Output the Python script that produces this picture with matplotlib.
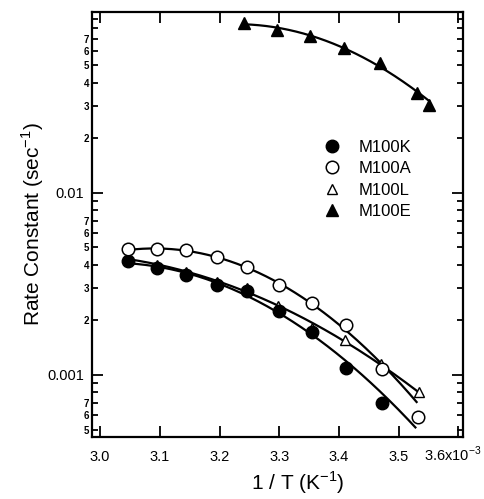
import numpy as np
import matplotlib
matplotlib.use("Agg")
import matplotlib.pyplot as plt
from matplotlib.ticker import LogLocator, FuncFormatter, FixedLocator
from matplotlib.transforms import ScaledTranslation

plt.rcParams['font.family'] = ['Liberation Sans', 'DejaVu Sans']
plt.rcParams['mathtext.fontset'] = 'custom'
plt.rcParams['mathtext.rm'] = 'Liberation Sans'

# 1/T values (units of 10^-3 K^-1) and rate constants (sec^-1)
x_K = [3.047, 3.095, 3.144, 3.195, 3.246, 3.299, 3.355, 3.412, 3.472]
y_K = [0.00419, 0.00384, 0.00352, 0.00313, 0.00287, 0.00223, 0.00171, 0.00109, 0.00070]

x_A = [3.047, 3.095, 3.144, 3.195, 3.246, 3.299, 3.355, 3.412, 3.472, 3.533]
y_A = [0.00488, 0.00488, 0.00482, 0.00441, 0.00389, 0.00313, 0.00247, 0.00187, 0.00107, 0.000586]

x_L = [3.047, 3.095, 3.144, 3.195, 3.246, 3.298, 3.355, 3.410, 3.471, 3.534]
y_L = [0.00435, 0.00399, 0.00366, 0.00325, 0.00299, 0.00238, 0.00180, 0.00155, 0.00115, 0.00080]

x_E = [3.241, 3.296, 3.352, 3.409, 3.469, 3.530, 3.551]
y_E = [0.0851, 0.0783, 0.0726, 0.0622, 0.0513, 0.0352, 0.0304]

labels = ['M100K', 'M100A', 'M100L', 'M100E']
x_ticks = [3.0, 3.1, 3.2, 3.3, 3.4, 3.5, 3.6]
x_ticklabels = ['3.0', '3.1', '3.2', '3.3', '3.4', '3.5', r'3.6x10$^{\mathregular{-3}}$']

# x range covered by each fitted curve
fit_ranges = {'K': (3.047, 3.528), 'A': (3.047, 3.530), 'L': (3.047, 3.539), 'E': (3.241, 3.551)}

fig = plt.figure(figsize=(4.85, 4.99), dpi=100)
ax = fig.add_axes([0.190, 0.124, 0.765, 0.852])
ax.set_yscale('log')


def fit_curve(x, y, rng, deg=2):
    # least squares on k itself (weights ~ k on log residuals)
    y = np.asarray(y)
    c = np.polyfit(x, np.log10(y), deg, w=y)
    xx = np.linspace(rng[0], rng[1], 200)
    return xx, 10 ** np.polyval(c, xx)


for key, xs, ys in [('L', x_L, y_L), ('K', x_K, y_K), ('A', x_A, y_A), ('E', x_E, y_E)]:
    xx, yy = fit_curve(xs, ys, fit_ranges[key])
    ax.plot(xx, yy, color='black', lw=1.6, zorder=2)

hL, = ax.plot(x_L, y_L, '^', ms=7.5, mfc='white', mec='black', mew=1.0, zorder=3)
hK, = ax.plot(x_K, y_K, 'o', ms=9, mfc='black', mec='black', zorder=4)
hA, = ax.plot(x_A, y_A, 'o', ms=9, mfc='white', mec='black', mew=1.1, zorder=4)
hE, = ax.plot(x_E, y_E, '^', ms=9, mfc='black', mec='black', zorder=4)

ax.set_xlim(2.9866, 3.608)
ax.set_ylim(4.55e-4, 0.098)

ax.xaxis.set_major_locator(FixedLocator(x_ticks))
ax.set_xticklabels(x_ticklabels)

ax.yaxis.set_major_locator(LogLocator(base=10, subs=(1.0,)))
ax.yaxis.set_minor_locator(LogLocator(base=10, subs=np.arange(2, 10)))


def major_fmt(v, pos):
    if abs(v - 0.001) < 1e-9:
        return '0.001'
    if abs(v - 0.01) < 1e-8:
        return '0.01'
    return ''


def minor_fmt(v, pos):
    d = int(round(v / 10 ** np.floor(np.log10(v) + 1e-9)))
    return str(d) if d <= 7 else ''


ax.yaxis.set_major_formatter(FuncFormatter(major_fmt))
ax.yaxis.set_minor_formatter(FuncFormatter(minor_fmt))

ax.tick_params(which='both', direction='in', top=True, right=True, width=1.3)
ax.tick_params(which='major', length=8)
ax.tick_params(axis='x', which='major', labelsize=10.5, pad=17)
ax.tick_params(axis='y', which='major', labelsize=10.5, pad=6)
ax.tick_params(axis='y', which='minor', length=4.5, labelsize=7, pad=2)
for t in ax.get_xticklabels():
    t.set_verticalalignment('baseline')
# last label "3.6x10^-3" sits slightly left of its tick
last = ax.get_xticklabels()[-1]
last.set_transform(last.get_transform() + ScaledTranslation(-6 / 100, 0, fig.dpi_scale_trans))
for t in ax.yaxis.get_minorticklabels():
    t.set_fontweight('bold')
for s in ax.spines.values():
    s.set_linewidth(1.6)

ax.set_xlabel(r'1 / T (K$^{\mathregular{-1}}$)', fontsize=15, labelpad=4, x=0.555)
ax.set_ylabel(r'Rate Constant (sec$^{\mathregular{-1}}$)', fontsize=15, labelpad=1)

ax.legend([hK, hA, hL, hE], labels, loc='upper left', bbox_to_anchor=(0.606, 0.715),
          frameon=False, fontsize=12, handlelength=1.0, handletextpad=1.1,
          labelspacing=0.39, borderaxespad=0)

fig.savefig('out.png', dpi=100)
